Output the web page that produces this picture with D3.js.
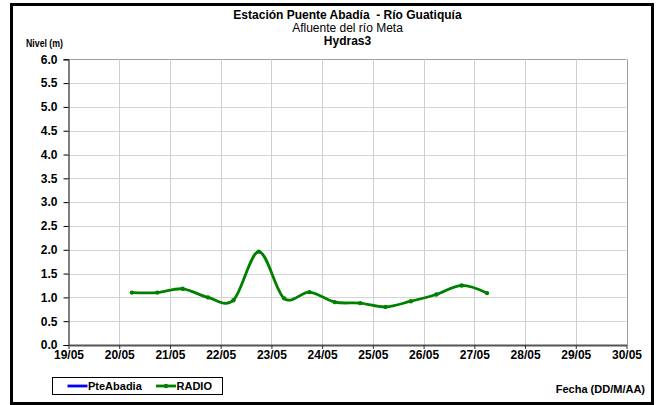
<!DOCTYPE html>
<html>
<head>
<meta charset="utf-8">
<script src="https://cdn.jsdelivr.net/npm/d3@7"></script>
<style>
  html, body { margin: 0; padding: 0; background: #fff; }
  svg { display: block; font-family: "Liberation Sans", Arial, sans-serif; }
  text { white-space: pre; }
</style>
</head>
<body>
<svg id="chart" width="656" height="405"></svg>
<script>
// Station readings: timestamp (DD/MM HH:MM) and level in metres
const times = ["20/05 06:00", "20/05 18:00", "21/05 06:00", "21/05 18:00", "22/05 06:00",
               "22/05 18:00", "23/05 06:00", "23/05 18:00", "24/05 06:00", "24/05 18:00",
               "25/05 06:00", "25/05 18:00", "26/05 06:00", "26/05 18:00", "27/05 06:00"];
const radioLevels = [1.10, 1.10, 1.18, 1.00, 0.94, 1.96, 0.98, 1.11, 0.90, 0.88,
                     0.80, 0.92, 1.06, 1.25, 1.09];
const pteAbadiaLevels = [];   // no readings for this series in the period
const xTickLabels = ["19/05", "20/05", "21/05", "22/05", "23/05", "24/05",
                     "25/05", "26/05", "27/05", "28/05", "29/05", "30/05"];
const yTickValues = [0, 0.5, 1, 1.5, 2, 2.5, 3, 3.5, 4, 4.5, 5, 5.5, 6];

const parse = d3.timeParse("%d/%m %H:%M");
const dayParse = d3.timeParse("%d/%m");

const svg = d3.select("#chart");
const plot = { left: 68.5, right: 626.5, top: 59.3, bottom: 345 };

const x = d3.scaleTime()
  .domain([dayParse(xTickLabels[0]), dayParse(xTickLabels[xTickLabels.length - 1])])
  .range([plot.left, plot.right]);
const y = d3.scaleLinear().domain([0, 6]).range([plot.bottom, plot.top]);

// outer frame
svg.append("rect")
  .attr("x", 11.5).attr("y", 4.5).attr("width", 641).attr("height", 399)
  .attr("fill", "#fff").attr("stroke", "#000").attr("stroke-width", 3);

// horizontal grid
svg.append("g").selectAll("line").data(yTickValues.slice(1)).join("line")
  .attr("x1", plot.left).attr("x2", plot.right)
  .attr("y1", d => Math.round(y(d)) + 0.5).attr("y2", d => Math.round(y(d)) + 0.5)
  .attr("stroke", d => d === 6 ? "#a0a0a0" : "#d4d4d4").attr("stroke-width", 1);

// vertical grid
const xTickDates = xTickLabels.map(dayParse);
svg.append("g").selectAll("line").data(xTickDates.slice(1)).join("line")
  .attr("x1", d => Math.round(x(d)) + 0.5).attr("x2", d => Math.round(x(d)) + 0.5)
  .attr("y1", plot.top).attr("y2", plot.bottom)
  .attr("stroke", (d, i) => i === xTickDates.length - 2 ? "#a0a0a0" : "#cfcfcf")
  .attr("stroke-width", 1);

// y axis
const yAxis = svg.append("g")
  .attr("transform", `translate(${plot.left},0)`)
  .call(d3.axisLeft(y).tickValues(yTickValues).tickFormat(d3.format(".1f"))
    .tickSize(5).tickPadding(6));
yAxis.select(".domain").attr("stroke", "#000");
yAxis.selectAll(".tick line").attr("stroke", "#000");
yAxis.selectAll("text").attr("font-size", 12).attr("font-weight", "bold").attr("fill", "#000");

// x axis
const xAxis = svg.append("g")
  .attr("transform", `translate(0,${plot.bottom})`)
  .call(d3.axisBottom(x).tickValues(xTickDates).tickFormat((d, i) => xTickLabels[i])
    .tickSize(4).tickPadding(1).tickSizeOuter(0));
xAxis.select(".domain").attr("stroke", "#555").attr("stroke-width", 2);
xAxis.selectAll(".tick line").attr("stroke", "#333");
xAxis.selectAll("text").attr("font-size", 12).attr("font-weight", "bold").attr("fill", "#000");

// series
const radio = times.map((t, i) => ({ t: parse(t), v: radioLevels[i] }));
const line = d3.line().x(d => x(d.t)).y(d => y(d.v)).curve(d3.curveCatmullRom.alpha(0));

svg.append("path").datum(radio)
  .attr("d", line).attr("fill", "none")
  .attr("stroke", "#008000").attr("stroke-width", 2.8).attr("stroke-linejoin", "round");
svg.append("g").selectAll("circle").data(radio).join("circle")
  .attr("cx", d => x(d.t)).attr("cy", d => y(d.v)).attr("r", 2.2).attr("fill", "#008000");

if (pteAbadiaLevels.length) {
  svg.append("path").datum(times.map((t, i) => ({ t: parse(t), v: pteAbadiaLevels[i] })))
    .attr("d", line).attr("fill", "none").attr("stroke", "#0000ff").attr("stroke-width", 2.8);
}

// titles
const cx = (plot.left + plot.right) / 2;
svg.append("text").attr("x", cx).attr("y", 18.5).attr("text-anchor", "middle")
  .attr("font-size", 12).attr("font-weight", "bold").text("Estación Puente Abadía  - Río Guatiquía");
svg.append("text").attr("x", cx).attr("y", 31.5).attr("text-anchor", "middle")
  .attr("font-size", 12).text("Afluente del río Meta");
svg.append("text").attr("x", cx).attr("y", 44.5).attr("text-anchor", "middle")
  .attr("font-size", 12).attr("font-weight", "bold").text("Hydras3");

svg.append("text").attr("x", 26).attr("y", 47)
  .attr("font-size", 10).attr("font-weight", "bold")
  .attr("textLength", 37).attr("lengthAdjust", "spacingAndGlyphs").text("Nivel (m)");
svg.append("text").attr("x", 645).attr("y", 393).attr("text-anchor", "end")
  .attr("font-size", 11).attr("font-weight", "bold").text("Fecha (DD/M/AA)");

// legend
const legend = svg.append("g");
legend.append("rect").attr("x", 52.5).attr("y", 377.5).attr("width", 170).attr("height", 17)
  .attr("fill", "#fff").attr("stroke", "#000").attr("stroke-width", 1);
const items = [
  { name: "PteAbadia", color: "#0000ff", marker: false, x: 67.5 },
  { name: "RADIO", color: "#008000", marker: true, x: 156 }
];
items.forEach(it => {
  legend.append("line").attr("x1", it.x).attr("x2", it.x + 20)
    .attr("y1", 386).attr("y2", 386).attr("stroke", it.color).attr("stroke-width", 2.8);
  if (it.marker) legend.append("circle").attr("cx", it.x + 10).attr("cy", 386).attr("r", 2.2).attr("fill", it.color);
  legend.append("text").attr("x", it.x + 20.5).attr("y", 390)
    .attr("font-size", 11).attr("font-weight", "bold").text(it.name);
});
</script>
</body>
</html>
